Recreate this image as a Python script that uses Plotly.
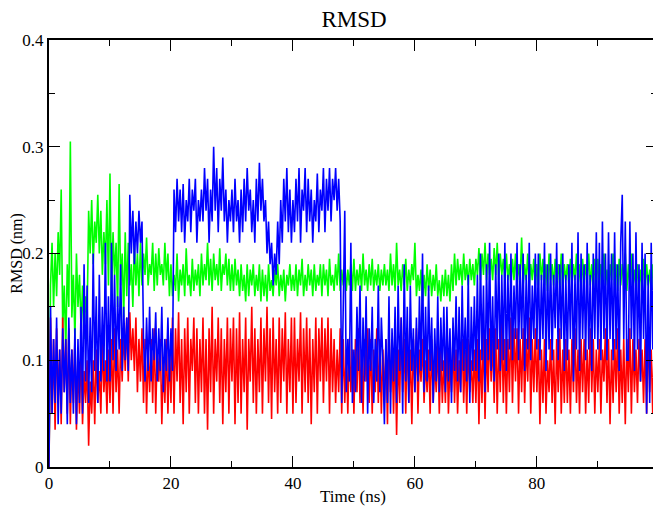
import plotly.graph_objects as go

# RMSD values (nm), one sample every 0.25 ns
green = [
    0.00, 0.17, 0.21, 0.15, 0.20, 0.16, 0.22, 0.18, 0.26, 0.13, 0.17, 0.11, 0.19, 0.15, 0.305, 0.14, 0.18, 0.12, 0.20, 0.15,
    0.18, 0.13, 0.17, 0.12, 0.16, 0.14, 0.24, 0.20, 0.25, 0.19, 0.23, 0.21, 0.255, 0.20, 0.24, 0.18, 0.22, 0.19, 0.25, 0.17,
    0.275, 0.16, 0.22, 0.18, 0.21, 0.15, 0.265, 0.17, 0.20, 0.14, 0.22, 0.16, 0.21, 0.17, 0.19, 0.15, 0.21, 0.17, 0.20, 0.16,
    0.21, 0.17, 0.20, 0.18, 0.215, 0.17, 0.19, 0.18, 0.21, 0.165, 0.20, 0.17, 0.205, 0.18, 0.19, 0.17, 0.21, 0.175, 0.20, 0.16,
    0.19, 0.16, 0.18, 0.165, 0.20, 0.155, 0.185, 0.17, 0.19, 0.16, 0.205, 0.17, 0.18, 0.16, 0.195, 0.165, 0.185, 0.17, 0.19, 0.16,
    0.20, 0.17, 0.19, 0.175, 0.21, 0.17, 0.195, 0.165, 0.20, 0.175, 0.19, 0.17, 0.205, 0.165, 0.19, 0.18, 0.20, 0.17, 0.195, 0.165,
    0.19, 0.165, 0.195, 0.17, 0.185, 0.16, 0.19, 0.165, 0.18, 0.155, 0.19, 0.16, 0.185, 0.17, 0.19, 0.16, 0.18, 0.165, 0.19, 0.155,
    0.185, 0.16, 0.18, 0.155, 0.19, 0.165, 0.175, 0.16, 0.185, 0.17, 0.19, 0.16, 0.18, 0.165, 0.185, 0.155, 0.18, 0.17, 0.19, 0.165,
    0.18, 0.165, 0.19, 0.16, 0.185, 0.17, 0.195, 0.16, 0.18, 0.165, 0.19, 0.17, 0.185, 0.16, 0.19, 0.165, 0.18, 0.17, 0.19, 0.16,
    0.19, 0.17, 0.185, 0.16, 0.195, 0.17, 0.18, 0.165, 0.19, 0.17, 0.20, 0.165, 0.185, 0.17, 0.19, 0.165, 0.185, 0.17, 0.19, 0.165,
    0.195, 0.165, 0.185, 0.17, 0.19, 0.165, 0.20, 0.17, 0.185, 0.165, 0.19, 0.17, 0.195, 0.165, 0.185, 0.17, 0.19, 0.165, 0.185, 0.17,
    0.19, 0.17, 0.185, 0.165, 0.20, 0.17, 0.19, 0.165, 0.21, 0.17, 0.185, 0.165, 0.19, 0.17, 0.195, 0.165, 0.185, 0.17, 0.19, 0.175,
    0.21, 0.16, 0.18, 0.165, 0.185, 0.155, 0.18, 0.16, 0.19, 0.165, 0.185, 0.16, 0.18, 0.165, 0.19, 0.16, 0.175, 0.155, 0.18, 0.16,
    0.185, 0.16, 0.18, 0.155, 0.19, 0.165, 0.20, 0.17, 0.195, 0.175, 0.19, 0.17, 0.20, 0.175, 0.19, 0.17, 0.195, 0.175, 0.19, 0.17,
    0.195, 0.18, 0.205, 0.175, 0.20, 0.18, 0.21, 0.175, 0.20, 0.18, 0.195, 0.175, 0.205, 0.18, 0.21, 0.175, 0.20, 0.18, 0.195, 0.175,
    0.20, 0.175, 0.19, 0.17, 0.195, 0.175, 0.20, 0.17, 0.19, 0.175, 0.215, 0.17, 0.19, 0.175, 0.20, 0.17, 0.19, 0.175, 0.195, 0.17,
    0.19, 0.17, 0.20, 0.175, 0.195, 0.17, 0.19, 0.165, 0.20, 0.175, 0.19, 0.17, 0.195, 0.175, 0.19, 0.17, 0.20, 0.165, 0.19, 0.175,
    0.19, 0.17, 0.195, 0.17, 0.19, 0.175, 0.20, 0.17, 0.19, 0.165, 0.195, 0.17, 0.19, 0.175, 0.20, 0.17, 0.19, 0.165, 0.195, 0.17,
    0.195, 0.17, 0.19, 0.175, 0.20, 0.17, 0.185, 0.165, 0.19, 0.175, 0.20, 0.17, 0.19, 0.165, 0.195, 0.17, 0.19, 0.175, 0.20, 0.165,
    0.19, 0.17, 0.20, 0.165, 0.185, 0.17, 0.19, 0.16, 0.185, 0.17, 0.195, 0.165, 0.19, 0.17, 0.185, 0.16, 0.19, 0.17, 0.185, 0.17,
]

red = [
    0.00, 0.14, 0.05, 0.12, 0.035, 0.13, 0.06, 0.11, 0.04, 0.14, 0.07, 0.12, 0.05, 0.13, 0.04, 0.11, 0.06, 0.12, 0.035, 0.10,
    0.05, 0.11, 0.04, 0.09, 0.06, 0.10, 0.02, 0.08, 0.05, 0.10, 0.04, 0.11, 0.06, 0.09, 0.05, 0.12, 0.07, 0.10, 0.05, 0.11,
    0.06, 0.12, 0.05, 0.13, 0.07, 0.11, 0.05, 0.12, 0.08, 0.13, 0.09, 0.14, 0.08, 0.145, 0.10, 0.13, 0.09, 0.14, 0.07, 0.12,
    0.08, 0.13, 0.06, 0.12, 0.05, 0.11, 0.07, 0.12, 0.06, 0.13, 0.05, 0.11, 0.08, 0.12, 0.04, 0.10, 0.06, 0.12, 0.05, 0.11,
    0.06, 0.14, 0.05, 0.13, 0.08, 0.145, 0.06, 0.12, 0.04, 0.13, 0.07, 0.14, 0.05, 0.12, 0.09, 0.14, 0.06, 0.13, 0.05, 0.12,
    0.07, 0.14, 0.05, 0.12, 0.035, 0.13, 0.07, 0.15, 0.05, 0.12, 0.08, 0.14, 0.06, 0.13, 0.04, 0.12, 0.07, 0.14, 0.05, 0.13,
    0.08, 0.14, 0.04, 0.13, 0.06, 0.145, 0.05, 0.12, 0.07, 0.14, 0.035, 0.12, 0.08, 0.15, 0.06, 0.13, 0.05, 0.12, 0.07, 0.14,
    0.05, 0.13, 0.08, 0.15, 0.06, 0.13, 0.045, 0.14, 0.07, 0.12, 0.05, 0.14, 0.06, 0.13, 0.08, 0.145, 0.05, 0.12, 0.07, 0.14,
    0.05, 0.14, 0.06, 0.12, 0.08, 0.145, 0.05, 0.13, 0.07, 0.14, 0.06, 0.13, 0.04, 0.12, 0.07, 0.14, 0.05, 0.13, 0.08, 0.14,
    0.06, 0.13, 0.08, 0.14, 0.05, 0.13, 0.07, 0.12, 0.06, 0.11, 0.07, 0.13, 0.05, 0.12, 0.06, 0.11, 0.05, 0.12, 0.07, 0.11,
    0.05, 0.12, 0.07, 0.13, 0.06, 0.11, 0.05, 0.12, 0.08, 0.13, 0.06, 0.12, 0.05, 0.11, 0.07, 0.13, 0.06, 0.12, 0.05, 0.11,
    0.06, 0.12, 0.04, 0.13, 0.07, 0.11, 0.05, 0.12, 0.03, 0.11, 0.06, 0.14, 0.07, 0.12, 0.05, 0.13, 0.06, 0.11, 0.04, 0.12,
    0.07, 0.13, 0.05, 0.11, 0.08, 0.12, 0.06, 0.10, 0.07, 0.11, 0.05, 0.12, 0.06, 0.10, 0.07, 0.12, 0.05, 0.11, 0.06, 0.10,
    0.06, 0.12, 0.05, 0.10, 0.07, 0.12, 0.06, 0.11, 0.05, 0.10, 0.07, 0.12, 0.06, 0.11, 0.05, 0.12, 0.07, 0.10, 0.06, 0.11,
    0.06, 0.12, 0.04, 0.11, 0.06, 0.13, 0.045, 0.12, 0.07, 0.13, 0.08, 0.12, 0.06, 0.13, 0.05, 0.12, 0.07, 0.135, 0.06, 0.12,
    0.05, 0.12, 0.07, 0.14, 0.06, 0.13, 0.08, 0.13, 0.05, 0.12, 0.07, 0.13, 0.06, 0.12, 0.08, 0.14, 0.05, 0.12, 0.07, 0.13,
    0.07, 0.12, 0.04, 0.11, 0.06, 0.12, 0.05, 0.10, 0.07, 0.12, 0.06, 0.11, 0.04, 0.12, 0.07, 0.13, 0.05, 0.11, 0.06, 0.12,
    0.06, 0.11, 0.05, 0.12, 0.07, 0.13, 0.06, 0.11, 0.05, 0.12, 0.07, 0.12, 0.05, 0.11, 0.06, 0.13, 0.07, 0.12, 0.05, 0.11,
    0.07, 0.12, 0.05, 0.11, 0.08, 0.13, 0.06, 0.12, 0.04, 0.11, 0.06, 0.12, 0.07, 0.13, 0.05, 0.11, 0.06, 0.12, 0.04, 0.12,
    0.07, 0.13, 0.05, 0.12, 0.07, 0.11, 0.06, 0.12, 0.08, 0.11, 0.06, 0.12, 0.05, 0.13, 0.07, 0.11, 0.05, 0.12, 0.08, 0.11,
]

blue = [
    0.00, 0.15, 0.05, 0.12, 0.06, 0.14, 0.04, 0.11, 0.05, 0.13, 0.07, 0.12, 0.04, 0.14, 0.06, 0.11, 0.05, 0.13, 0.04, 0.12,
    0.06, 0.15, 0.05, 0.19, 0.08, 0.17, 0.06, 0.14, 0.07, 0.20, 0.09, 0.16, 0.06, 0.18, 0.08, 0.15, 0.09, 0.21, 0.08, 0.16,
    0.08, 0.21, 0.10, 0.18, 0.09, 0.16, 0.11, 0.19, 0.09, 0.15, 0.10, 0.14, 0.09, 0.255, 0.20, 0.24, 0.19, 0.23, 0.20, 0.24,
    0.21, 0.23, 0.12, 0.08, 0.14, 0.09, 0.15, 0.08, 0.13, 0.10, 0.145, 0.08, 0.13, 0.09, 0.15, 0.07, 0.12, 0.09, 0.14, 0.08,
    0.13, 0.09, 0.26, 0.22, 0.27, 0.23, 0.26, 0.22, 0.265, 0.21, 0.25, 0.23, 0.27, 0.22, 0.26, 0.24, 0.27, 0.21, 0.25, 0.23,
    0.26, 0.23, 0.28, 0.24, 0.27, 0.21, 0.26, 0.23, 0.30, 0.24, 0.28, 0.22, 0.27, 0.24, 0.29, 0.23, 0.26, 0.21, 0.25, 0.23,
    0.26, 0.22, 0.27, 0.23, 0.25, 0.21, 0.26, 0.22, 0.27, 0.23, 0.28, 0.24, 0.26, 0.22, 0.25, 0.21, 0.27, 0.23, 0.285, 0.24,
    0.27, 0.23, 0.25, 0.20, 0.23, 0.19, 0.21, 0.17, 0.20, 0.18, 0.23, 0.19, 0.25, 0.21, 0.27, 0.23, 0.28, 0.22, 0.26, 0.21,
    0.25, 0.22, 0.27, 0.23, 0.28, 0.21, 0.26, 0.24, 0.28, 0.22, 0.27, 0.23, 0.26, 0.21, 0.25, 0.23, 0.275, 0.22, 0.26, 0.24,
    0.28, 0.22, 0.27, 0.24, 0.28, 0.23, 0.27, 0.25, 0.28, 0.24, 0.27, 0.23, 0.06, 0.14, 0.24, 0.07, 0.12, 0.08, 0.21, 0.06,
    0.11, 0.07, 0.15, 0.09, 0.17, 0.06, 0.14, 0.08, 0.16, 0.05, 0.13, 0.09, 0.15, 0.06, 0.12, 0.08, 0.17, 0.07, 0.14, 0.10,
    0.04, 0.12, 0.06, 0.16, 0.05, 0.13, 0.08, 0.15, 0.06, 0.17, 0.09, 0.14, 0.05, 0.19, 0.08, 0.15, 0.06, 0.17, 0.09, 0.13,
    0.07, 0.14, 0.08, 0.16, 0.09, 0.20, 0.07, 0.15, 0.08, 0.17, 0.09, 0.14, 0.06, 0.13, 0.08, 0.16, 0.07, 0.14, 0.09, 0.15,
    0.07, 0.15, 0.08, 0.13, 0.06, 0.14, 0.09, 0.16, 0.08, 0.15, 0.07, 0.17, 0.09, 0.14, 0.08, 0.18, 0.06, 0.15, 0.09, 0.16,
    0.09, 0.18, 0.08, 0.20, 0.10, 0.17, 0.07, 0.19, 0.10, 0.21, 0.09, 0.16, 0.08, 0.19, 0.11, 0.20, 0.09, 0.18, 0.10, 0.21,
    0.09, 0.18, 0.11, 0.20, 0.10, 0.17, 0.12, 0.21, 0.10, 0.19, 0.12, 0.20, 0.09, 0.18, 0.11, 0.21, 0.10, 0.17, 0.12, 0.20,
    0.11, 0.20, 0.10, 0.18, 0.12, 0.21, 0.09, 0.19, 0.11, 0.20, 0.10, 0.18, 0.13, 0.21, 0.10, 0.19, 0.12, 0.20, 0.09, 0.18,
    0.10, 0.19, 0.12, 0.21, 0.08, 0.18, 0.11, 0.22, 0.09, 0.20, 0.12, 0.19, 0.10, 0.21, 0.11, 0.18, 0.09, 0.20, 0.12, 0.22,
    0.11, 0.21, 0.10, 0.23, 0.12, 0.20, 0.10, 0.22, 0.12, 0.20, 0.10, 0.22, 0.11, 0.19, 0.09, 0.21, 0.255, 0.12, 0.23, 0.10,
    0.10, 0.23, 0.12, 0.20, 0.09, 0.22, 0.11, 0.19, 0.08, 0.21, 0.12, 0.20, 0.05, 0.18, 0.06, 0.21, 0.11, 0.22, 0.09, 0.21,
]

time_ns = [i * 0.25 for i in range(len(green))]

font_family = "Liberation Serif, Times New Roman, serif"

fig = go.Figure()
for values, color in [(green, "#00ff00"), (red, "#ff0000"), (blue, "#0000ff")]:
    fig.add_trace(go.Scatter(
        x=time_ns,
        y=values,
        mode="lines",
        line=dict(color=color, width=1.6),
        showlegend=False,
    ))

axis_style = dict(
    showline=True,
    linecolor="black",
    linewidth=2,
    mirror="allticks",
    ticks="inside",
    ticklen=11,
    tickwidth=1.3,
    tickcolor="black",
    showgrid=False,
    zeroline=False,
    automargin=False,
    tickfont=dict(family=font_family, size=17, color="black"),
)

# the page body keeps its 8px margin, so the figure is 8px smaller
# and the plot margins are shifted to keep the axes where they belong
fig.update_layout(
    width=653,
    height=498,
    paper_bgcolor="white",
    plot_bgcolor="white",
    margin=dict(l=41, r=4, t=32, b=39),
    title=dict(
        text="RMSD",
        x=0.53,
        xanchor="center",
        y=0.979,
        yanchor="middle",
        font=dict(family=font_family, size=23, color="black"),
    ),
    xaxis=dict(
        range=[0, 99.7],
        tickvals=[0, 20, 40, 60, 80],
        minor=dict(dtick=10, ticks="inside", ticklen=6, tickcolor="black"),
        title=dict(text="Time (ns)", standoff=0,
                   font=dict(family=font_family, size=17, color="black")),
        **axis_style,
    ),
    yaxis=dict(
        range=[0, 0.4],
        tickvals=[0, 0.1, 0.2, 0.3, 0.4],
        ticktext=["0", "0.1", "0.2", "0.3", "0.4"],
        minor=dict(dtick=0.05, ticks="inside", ticklen=6, tickcolor="black"),
        **axis_style,
    ),
)

# y axis title placed by hand, left of the tick labels
fig.add_annotation(
    text="RMSD (nm)",
    textangle=-90,
    xref="paper", yref="paper",
    x=-0.054, y=0.5,
    xanchor="center", yanchor="middle",
    showarrow=False,
    font=dict(family=font_family, size=16, color="black"),
)

fig.write_html("out.html")
